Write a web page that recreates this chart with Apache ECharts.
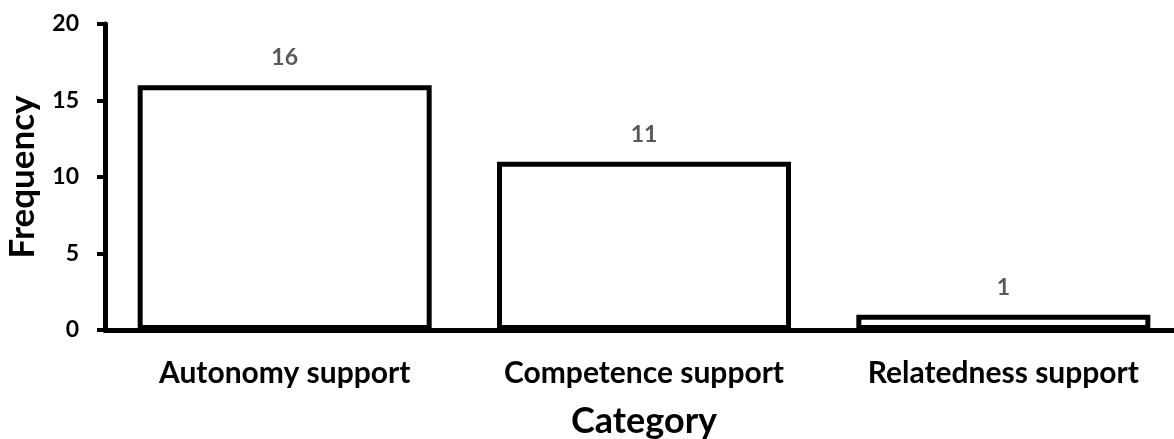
<!DOCTYPE html>
<html>
<head>
<meta charset="utf-8">
<script src="https://cdn.jsdelivr.net/npm/echarts@6/dist/echarts.min.js"></script>
<style>
  html, body { margin: 0; padding: 0; background: #fff; }
  #chart { width: 1174px; height: 439px; }
</style>
</head>
<body>
<div id="chart"></div>
<script>
// Frequency of each support category
const categories = ['Autonomy support', 'Competence support', 'Relatedness support'];
const frequencies = [16, 11, 1];
const yTicks = [0, 5, 10, 15, 20];

const FONT = 'Lato, "Open Sans", sans-serif';

const chart = echarts.init(document.getElementById('chart'));
chart.setOption({
  animation: false,
  backgroundColor: '#ffffff',
  grid: {
    left: 105, top: 24, width: 1078, height: 306,
    containLabel: false,
    outerBoundsMode: 'none'
  },
  xAxis: {
    type: 'category',
    data: categories,
    name: 'Category',
    nameLocation: 'middle',
    nameGap: 73,
    nameTextStyle: { fontFamily: FONT, fontWeight: 'bold', fontSize: 36, color: '#000' },
    axisLine: { lineStyle: { color: '#000', width: 5 } },
    axisTick: { show: false },
    axisLabel: { fontFamily: FONT, fontWeight: 'bold', fontSize: 30, color: '#000', margin: 28, interval: 0 }
  },
  yAxis: {
    type: 'value',
    min: yTicks[0],
    max: yTicks[yTicks.length - 1],
    interval: 5,
    name: 'Frequency',
    nameLocation: 'middle',
    nameGap: 65,
    nameRotate: 90,
    nameTextStyle: { fontFamily: FONT, fontWeight: 'bold', fontSize: 35, color: '#000' },
    axisLine: { show: true, lineStyle: { color: '#000', width: 5 } },
    axisTick: { show: true, length: 8, lineStyle: { color: '#000', width: 4 } },
    axisLabel: { fontFamily: FONT, fontWeight: 'bold', fontSize: 23, color: '#000', margin: 26 },
    splitLine: { show: false }
  },
  series: [{
    type: 'bar',
    data: frequencies,
    barWidth: 294,
    itemStyle: { color: '#ffffff', borderColor: '#000000', borderWidth: 5 },
    label: {
      show: true,
      position: 'top',
      distance: 16,
      fontFamily: FONT,
      fontWeight: 'bold',
      fontSize: 23,
      color: '#595959'
    }
  }]
});
</script>
</body>
</html>
